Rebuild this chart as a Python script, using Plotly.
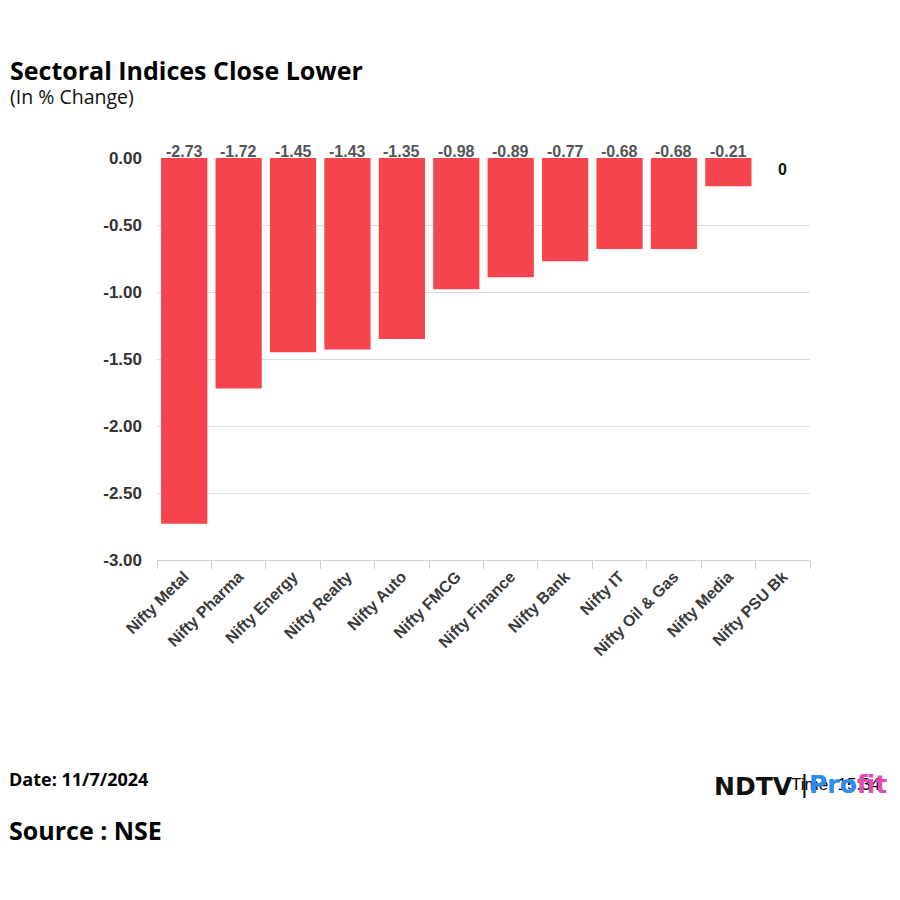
import plotly.graph_objects as go

categories = ["Nifty Metal", "Nifty Pharma", "Nifty Energy", "Nifty Realty", "Nifty Auto",
              "Nifty FMCG", "Nifty Finance", "Nifty Bank", "Nifty IT", "Nifty Oil & Gas",
              "Nifty Media", "Nifty PSU Bk"]
values = [-2.73, -1.72, -1.45, -1.43, -1.35, -0.98, -0.89, -0.77, -0.68, -0.68, -0.21, 0]
y_ticks = [0, -0.5, -1.0, -1.5, -2.0, -2.5, -3.0]
y_tick_labels = ["0.00", "-0.50", "-1.00", "-1.50", "-2.00", "-2.50", "-3.00"]

title_text = "Sectoral Indices Close Lower"
subtitle_text = "(In % Change)"
date_text = "Date: 11/7/2024"
source_text = "Source : NSE"
time_text = "Time: 15:34"

# plot area in screen pixels (page has 8px body margin)
PL, PR, PT, PB = 157, 810, 158, 560
PW, PH = PR - PL, PB - PT


def px(X):
    return (X - PL) / PW


def py(Y):
    return (PB - Y) / PH


fig = go.Figure()
fig.add_trace(go.Bar(
    x=categories, y=values,
    marker=dict(color="#F5444E", line=dict(width=0)),
    width=0.85,
    hoverinfo="skip",
))

for c, v in zip(categories, values):
    label = f"{v:.2f}" if v != 0 else "0"
    fig.add_annotation(
        x=c, y=0, xref="x", yref="y", text=f"<b>{label}</b>",
        showarrow=False,
        yanchor="bottom" if v != 0 else "top",
        yshift=-4 if v != 0 else -1,
        font=dict(family="Arial", size=16, color="#555555" if v != 0 else "#111111"),
    )

fig.update_layout(
    width=900, height=900,
    paper_bgcolor="white", plot_bgcolor="white",
    margin=dict(l=PL - 8, r=908 - PR, t=PT - 8, b=908 - PB),
    showlegend=False,
    bargap=0.15,
    xaxis=dict(
        tickangle=-45, ticks="outside", tickson="boundaries", ticklen=8,
        tickcolor="#d0d0d0", showline=True, linecolor="#d0d0d0", linewidth=1,
        showgrid=False,
        tickfont=dict(family="Arial", size=16, color="#3a3a3a", weight="bold"),
    ),
    yaxis=dict(
        range=[-3.0, 0.0], tickvals=y_ticks, ticktext=y_tick_labels,
        showgrid=True, gridcolor="#dddddd", gridwidth=1, zeroline=False,
        ticks="", ticklabelstandoff=14,
        tickfont=dict(family="Arial", size=17, color="#333333", weight="bold"),
    ),
)


def note(text, X, Y, size, family="Open Sans", color="#000000", anchor="left"):
    fig.add_annotation(xref="paper", yref="paper", x=px(X), y=py(Y),
                       xanchor=anchor, yanchor="middle", text=text, showarrow=False,
                       font=dict(family=family, size=size, color=color))


note(f"<b>{title_text}</b>", 8, 70, 25)
note(subtitle_text, 8, 97, 19.5, color="#111111")
note(f"<b>{date_text}</b>", 7, 779, 18)
note(f"<b>{source_text}</b>", 7, 830, 25)
note(time_text, 789, 784, 17, family="Arial")
note("<b>NDTV</b>", 712, 786, 25, family="DejaVu Sans", color="#111111")
note("|", 799, 784, 26, family="Arial", color="#111111")
note("<b><span style='color:#2E8BF0'>Pro</span><span style='color:#E04FB0'>fit</span></b>",
     807, 784, 25, family="DejaVu Sans", color="#2E8BF0")

fig.write_html("out.html")
